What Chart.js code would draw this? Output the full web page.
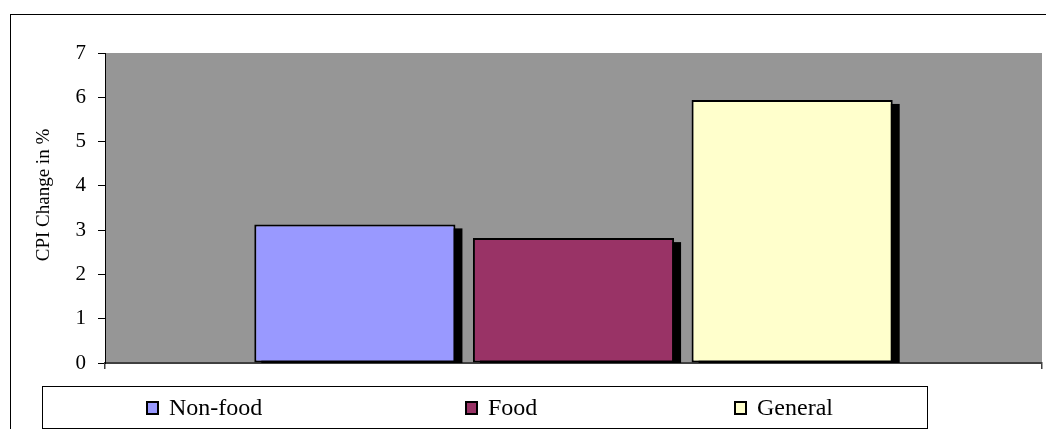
<!DOCTYPE html>
<html>
<head>
<meta charset="utf-8">
<script src="https://cdn.jsdelivr.net/npm/chart.js@4"></script>
<style>
    body { margin: 0; background: #fff; }
    #wrap { position: relative; width: 1046px; height: 429px; overflow: hidden; }
    #frame { position: absolute; left: 10px; top: 14px; width: 1040px; height: 430px; border: 1px solid #000; pointer-events: none; }
    #legend { position: absolute; left: 42px; top: 386px; width: 884px; height: 41px; border: 1px solid #000; font-family: "Liberation Serif", "Times New Roman", serif; font-size: 24px; color: #000; }
    .item { position: absolute; top: 0; height: 41px; display: flex; align-items: center; white-space: nowrap; }
    .box { width: 9px; height: 10px; border: 2px solid #000; margin-right: 10px; }
    canvas { position: absolute; left: 0; top: 0; }
</style>
</head>
<body>
<div id="wrap">
    <div id="frame"></div>
    <canvas id="cpi-chart" width="1046" height="429"></canvas>
    <div id="legend"></div>
</div>
<script>
const categories = [''];
const seriesNames = ['Non-food', 'Food', 'General'];
const seriesValues = [3.13, 2.82, 5.94];
const seriesColors = ['#9999FF', '#993366', '#FFFFCC'];
const yTitle = 'CPI Change in %';
const yMin = 0, yMax = 7, yStep = 1;

// legend item left edges inside the box
const legendOffsets = [103, 422, 691];

document.addEventListener('DOMContentLoaded', function() {
    const plotBackground = {
        id: 'plotBackground',
        beforeDraw(chart) {
            const a = chart.chartArea;
            const ctx = chart.ctx;
            ctx.save();
            ctx.fillStyle = '#969696';
            ctx.fillRect(a.left, a.top, a.right - a.left, a.bottom - a.top);
            ctx.restore();
        }
    };

    // black drop shadow behind every bar (offset right/down, cut at the axis)
    const barShadow = {
        id: 'barShadow',
        beforeDatasetsDraw(chart) {
            const ctx = chart.ctx;
            const a = chart.chartArea;
            ctx.save();
            ctx.beginPath();
            ctx.rect(a.left, a.top, a.right - a.left, a.bottom - a.top);
            ctx.clip();
            ctx.fillStyle = '#000';
            chart.data.datasets.forEach((ds, i) => {
                chart.getDatasetMeta(i).data.forEach(bar => {
                    const p = bar.getProps(['x', 'y', 'base', 'width'], true);
                    const left = p.x - p.width / 2;
                    ctx.fillRect(left + 7, p.y + 4, p.width, p.base - p.y);
                });
            });
            ctx.restore();
        }
    };

    const axisTitle = {
        id: 'axisTitle',
        afterDraw(chart) {
            const ctx = chart.ctx;
            ctx.save();
            ctx.translate(44, 195);
            ctx.rotate(-Math.PI / 2);
            ctx.font = '19px "Liberation Serif"';
            ctx.fillStyle = '#000';
            ctx.textAlign = 'center';
            ctx.textBaseline = 'middle';
            ctx.fillText(yTitle, 0, 0);
            ctx.restore();
        }
    };

    const datasets = seriesNames.map((name, i) => ({
        label: name,
        data: [seriesValues[i]],
        backgroundColor: seriesColors[i],
        borderColor: '#000',
        borderWidth: 2,
        borderSkipped: false,
        clip: 0,
        categoryPercentage: 0.7,
        barPercentage: 0.92
    }));

    const chart = new Chart(document.getElementById('cpi-chart'), {
        type: 'bar',
        data: { labels: categories, datasets: datasets },
        options: {
            responsive: false,
            animation: false,
            layout: { padding: { top: 53, right: 4, left: 0, bottom: 0 } },
            plugins: {
                legend: { display: false },
                tooltip: { enabled: false }
            },
            scales: {
                x: {
                    offset: true,
                    grid: { offset: true, drawOnChartArea: false, drawTicks: true, tickLength: 6, color: '#404040', lineWidth: 1.5 },
                    border: { color: '#404040', width: 2 },
                    ticks: { display: false },
                    afterFit: s => { s.height = 66; }
                },
                y: {
                    min: yMin,
                    max: yMax,
                    ticks: {
                        stepSize: yStep,
                        color: '#000',
                        padding: 12,
                        font: { family: 'Liberation Serif', size: 21 }
                    },
                    grid: { drawOnChartArea: false, tickLength: 7, color: '#000' },
                    border: { color: '#000', width: 1 },
                    afterFit: s => { s.width = 105; }
                }
            }
        },
        plugins: [plotBackground, barShadow, axisTitle]
    });

    const legend = document.getElementById('legend');
    chart.data.datasets.forEach((ds, i) => {
        const item = document.createElement('div');
        item.className = 'item';
        item.style.left = legendOffsets[i] + 'px';
        const box = document.createElement('span');
        box.className = 'box';
        box.style.background = ds.backgroundColor;
        const text = document.createElement('span');
        text.textContent = ds.label;
        item.appendChild(box);
        item.appendChild(text);
        legend.appendChild(item);
    });
});
</script>
</body>
</html>
